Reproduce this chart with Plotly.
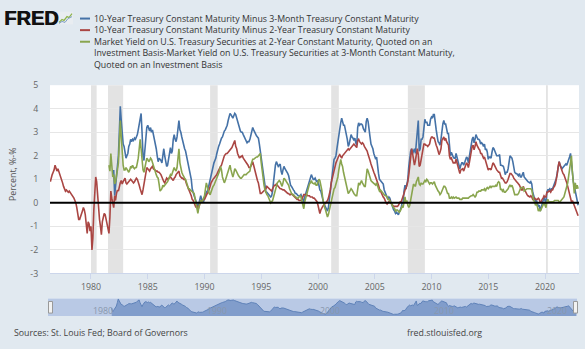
import pandas as pd
import plotly.graph_objects as go

# ---------------- data (monthly) ----------------
# 10-Year minus 2-Year, from 1976-06
t10y2y = [
    0.9, 1.1, 1.2, 1.3, 1.4, 1.6, 1.45,                                   # 1976 Jun-Dec
    1.35, 1.45, 1.35, 1.25, 1.1, 1.0, 0.85, 0.7, 0.6, 0.5, 0.55, 0.5,     # 1977
    0.45, 0.5, 0.45, 0.4, 0.35, 0.3, 0.2, 0.1, 0.0, -0.2, -0.5, -0.7,     # 1978
    -0.7, -0.6, -0.5, -0.35, -0.2, -0.3, -0.5, -0.8, -1.3, -0.8, -0.9, -1.2,  # 1979
    -1.0, -2.0, -1.5, -0.3, 0.8, 1.1, 0.9, 0.3, -0.3, -0.7, -1.0, -1.35,  # 1980
    -0.8, -0.6, -0.45, -0.5, -0.7, -0.9, -1.15, -1.3, -0.6, 0.5, 0.2, -0.1,  # 1981
    -0.2, 0.3, 0.1, 0.4, 0.55, 0.5, 0.75, 0.85, 0.95, 0.8, 0.9, 1.0,      # 1982
    1.05, 0.85, 0.8, 0.85, 0.9, 0.95, 1.0, 0.95, 0.9, 0.85, 0.9, 1.0,     # 1983
    1.05, 1.0, 0.9, 0.75, 0.6, 0.4, 0.35, 0.55, 0.8, 1.1, 1.4, 1.5,       # 1984
    1.45, 1.4, 1.35, 1.45, 1.5, 1.55, 1.45, 1.4, 1.4, 1.35, 1.35, 1.3,    # 1985
    1.3, 1.25, 1.2, 1.1, 0.95, 0.9, 0.85, 1.0, 1.05, 1.0, 1.05, 1.1,      # 1986
    1.1, 1.05, 1.0, 0.95, 1.05, 1.1, 1.2, 1.25, 1.3, 1.35, 1.15, 1.1,     # 1987
    1.05, 1.05, 1.0, 1.0, 0.95, 0.8, 0.7, 0.6, 0.5, 0.45, 0.3, 0.15,      # 1988
    0.1, 0.0, -0.15, -0.2, -0.1, -0.3, -0.2, 0.0, 0.1, 0.05, 0.1, 0.15,   # 1989
    0.15, 0.25, 0.3, 0.4, 0.45, 0.55, 0.7, 0.85, 0.95, 1.0, 1.05, 1.1,    # 1990
    1.15, 1.2, 1.3, 1.4, 1.5, 1.55, 1.6, 1.75, 1.85, 2.0, 2.05, 2.1,      # 1991
    2.1, 2.15, 2.2, 2.25, 2.3, 2.35, 2.45, 2.55, 2.65, 2.4, 2.3, 2.1,     # 1992
    1.95, 1.9, 1.95, 2.0, 2.0, 1.9, 1.85, 1.75, 1.7, 1.65, 1.6, 1.5,      # 1993
    1.5, 1.55, 1.65, 1.75, 1.6, 1.4, 1.3, 1.1, 0.95, 0.85, 0.6, 0.4,      # 1994
    0.4, 0.45, 0.45, 0.5, 0.55, 0.6, 0.7, 0.65, 0.6, 0.55, 0.55, 0.5,     # 1995
    0.6, 0.7, 0.75, 0.75, 0.8, 0.75, 0.7, 0.65, 0.6, 0.6, 0.55, 0.55,     # 1996
    0.55, 0.5, 0.5, 0.45, 0.4, 0.4, 0.35, 0.35, 0.4, 0.35, 0.3, 0.25,     # 1997
    0.25, 0.2, 0.15, 0.15, 0.1, 0.1, 0.1, 0.15, 0.25, 0.35, 0.35, 0.35,   # 1998
    0.35, 0.3, 0.3, 0.3, 0.25, 0.25, 0.25, 0.2, 0.2, 0.15, 0.1, 0.05,     # 1999
    -0.1, -0.3, -0.45, -0.3, -0.2, -0.15, -0.1, -0.05, 0.0, 0.05, 0.1, 0.2,  # 2000
    0.35, 0.55, 0.85, 1.05, 1.25, 1.35, 1.5, 1.7, 1.8, 1.95, 2.0, 2.05,   # 2001
    1.95, 1.9, 2.0, 2.05, 2.1, 2.15, 2.2, 2.25, 2.3, 2.25, 2.3, 2.35,     # 2002
    2.4, 2.45, 2.5, 2.45, 2.4, 2.35, 2.65, 2.7, 2.6, 2.55, 2.5, 2.55,     # 2003
    2.5, 2.4, 2.35, 2.3, 2.2, 2.05, 1.95, 1.8, 1.65, 1.5, 1.4, 1.3,       # 2004
    1.2, 1.1, 0.95, 0.9, 0.75, 0.6, 0.5, 0.4, 0.3, 0.25, 0.2, 0.05,       # 2005
    0.0, -0.05, 0.0, 0.05, 0.1, 0.0, -0.05, -0.1, -0.15, -0.15, -0.15, -0.15,  # 2006
    -0.15, -0.1, 0.0, 0.05, 0.05, 0.15, 0.25, 0.4, 0.55, 0.6, 0.75, 0.9,  # 2007
    1.2, 1.65, 1.85, 2.3, 2.1, 1.75, 1.6, 1.8, 2.1, 2.3, 2.05, 1.55,      # 2008
    1.6, 1.85, 1.95, 2.2, 2.5, 2.5, 2.45, 2.45, 2.4, 2.45, 2.5, 2.7,      # 2009
    2.8, 2.8, 2.75, 2.75, 2.55, 2.45, 2.35, 2.15, 2.05, 2.15, 2.3, 2.65,  # 2010
    2.75, 2.8, 2.65, 2.75, 2.6, 2.5, 2.45, 2.0, 1.85, 1.9, 1.75, 1.7,     # 2011
    1.7, 1.7, 1.85, 1.7, 1.45, 1.35, 1.25, 1.4, 1.45, 1.45, 1.35, 1.5,    # 2012
    1.65, 1.7, 1.65, 1.5, 1.7, 2.0, 2.25, 2.4, 2.45, 2.25, 2.4, 2.6,      # 2013
    2.45, 2.35, 2.3, 2.25, 2.1, 2.1, 2.0, 1.9, 1.95, 1.8, 1.7, 1.55,      # 2014
    1.4, 1.45, 1.45, 1.4, 1.6, 1.7, 1.65, 1.55, 1.45, 1.4, 1.35, 1.3,     # 2015
    1.3, 1.15, 1.05, 1.05, 1.0, 0.95, 0.85, 0.85, 0.9, 1.0, 1.15, 1.25,   # 2016
    1.25, 1.2, 1.15, 1.05, 1.0, 0.9, 0.9, 0.85, 0.8, 0.75, 0.65, 0.55,    # 2017
    0.55, 0.7, 0.6, 0.5, 0.45, 0.35, 0.3, 0.25, 0.25, 0.3, 0.25, 0.15,    # 2018
    0.2, 0.2, 0.15, 0.15, 0.15, 0.2, 0.15, 0.0, 0.05, 0.15, 0.2, 0.3,     # 2019
    0.25, 0.25, 0.45, 0.45, 0.5, 0.5, 0.45, 0.55, 0.55, 0.65, 0.7, 0.8,   # 2020
    1.0, 1.25, 1.55, 1.75, 1.6, 1.45, 1.3, 1.25, 1.2, 1.1, 0.95, 0.85,    # 2021
    0.7, 0.5, 0.3, 0.1, 0.05, 0.1, 0.0, -0.1, -0.2, -0.3, -0.45, -0.55,   # 2022
]

# 10-Year minus 3-Month, from 1982-01
t10y3m = [
    1.4, 0.3, 0.7, 1.2, 1.6, 2.0, 3.0, 4.1, 3.5, 2.8, 2.5, 2.4,           # 1982
    2.1, 1.9, 2.0, 2.1, 2.4, 2.5, 2.7, 2.6, 2.7, 2.65, 2.75, 2.7,         # 1983
    2.8, 2.9, 3.1, 3.4, 3.6, 3.8, 3.0, 2.0, 1.8, 2.4, 3.0, 3.2,           # 1984
    3.3, 3.1, 3.05, 3.2, 3.0, 3.1, 2.9, 2.8, 2.6, 2.3, 2.0, 1.75,         # 1985
    1.9, 1.85, 1.8, 1.7, 2.1, 2.3, 2.0, 1.7, 1.55, 1.6, 1.9, 2.2,         # 1986
    2.35, 2.1, 2.2, 2.7, 2.9, 2.7, 2.6, 2.8, 3.2, 3.5, 3.1, 3.0,          # 1987
    2.8, 2.6, 2.5, 2.3, 2.2, 2.0, 1.9, 1.6, 1.5, 1.3, 1.0, 0.6,           # 1988
    0.4, 0.3, 0.2, 0.1, 0.0, -0.15, -0.05, 0.2, 0.3, 0.15, 0.1, 0.05,     # 1989
    0.2, 0.35, 0.45, 0.5, 0.6, 0.8, 1.0, 1.25, 1.4, 1.55, 1.7, 1.8,       # 1990
    1.9, 2.1, 2.3, 2.4, 2.5, 2.7, 2.75, 2.8, 2.95, 3.05, 3.1, 3.2,        # 1991
    3.3, 3.5, 3.7, 3.8, 3.75, 3.65, 3.6, 3.7, 3.8, 3.75, 3.6, 3.5,        # 1992
    3.3, 3.1, 3.05, 3.0, 3.0, 2.9, 2.8, 2.75, 2.65, 2.55, 2.6, 2.6,       # 1993
    2.7, 2.85, 3.05, 3.2, 3.1, 3.0, 2.95, 2.85, 2.8, 2.75, 2.5, 2.2,      # 1994
    2.0, 1.7, 1.3, 0.95, 0.6, 0.45, 0.45, 0.4, 0.35, 0.3, 0.25, 0.3,      # 1995
    0.5, 0.9, 1.3, 1.6, 1.75, 1.6, 1.55, 1.6, 1.65, 1.35, 1.2, 1.4,       # 1996
    1.55, 1.45, 1.4, 1.3, 1.25, 1.15, 0.9, 0.75, 0.7, 0.6, 0.55, 0.5,     # 1997
    0.4, 0.4, 0.35, 0.3, 0.3, 0.3, 0.35, 0.25, 0.15, 0.05, 0.25, 0.4,     # 1998
    0.5, 0.65, 0.8, 0.95, 1.1, 1.2, 1.1, 1.0, 1.0, 1.05, 0.95, 0.9,       # 1999
    0.95, 0.7, 0.55, 0.5, 0.3, 0.1, 0.0, -0.1, -0.2, -0.3, -0.35, -0.2,   # 2000
    0.2, 0.5, 0.8, 1.3, 1.7, 1.85, 1.9, 2.0, 2.3, 2.6, 3.0, 3.3,          # 2001
    3.4, 3.6, 3.5, 3.3, 3.3, 3.15, 2.9, 2.7, 2.4, 2.5, 2.8, 2.9,          # 2002
    2.8, 2.75, 2.65, 2.75, 2.55, 2.45, 3.2, 3.4, 3.3, 3.35, 3.35, 3.3,    # 2003
    3.15, 3.05, 3.0, 3.45, 3.6, 3.45, 3.0, 2.8, 2.5, 2.4, 2.3, 2.1,       # 2004
    2.0, 1.85, 1.95, 1.45, 1.25, 1.0, 0.95, 0.85, 0.85, 0.8, 0.55, 0.45,  # 2005
    0.35, 0.3, 0.15, 0.25, 0.2, 0.05, -0.1, -0.15, -0.3, -0.35, -0.45, -0.4,  # 2006
    -0.45, -0.5, -0.4, -0.3, -0.2, 0.0, 0.0, 0.5, 0.75, 0.6, 0.85, 1.0,   # 2007
    1.55, 1.9, 2.2, 2.3, 2.1, 2.2, 2.3, 2.1, 2.5, 3.0, 3.5, 2.2,          # 2008
    2.3, 2.7, 2.7, 2.8, 3.2, 3.55, 3.4, 3.45, 3.3, 3.3, 3.3, 3.55,        # 2009
    3.65, 3.6, 3.75, 3.75, 3.3, 3.1, 2.85, 2.6, 2.55, 2.45, 2.7, 3.2,     # 2010
    3.35, 3.5, 3.35, 3.35, 3.1, 2.95, 2.95, 2.25, 2.0, 2.15, 2.0, 1.95,   # 2011
    1.9, 1.9, 2.1, 1.95, 1.7, 1.55, 1.45, 1.6, 1.7, 1.7, 1.6, 1.7,        # 2012
    1.85, 1.95, 1.9, 1.7, 1.95, 2.25, 2.55, 2.7, 2.8, 2.55, 2.7, 2.9,     # 2013
    2.8, 2.7, 2.7, 2.65, 2.5, 2.55, 2.5, 2.4, 2.5, 2.25, 2.3, 2.15,       # 2014
    1.85, 1.95, 1.95, 1.9, 2.15, 2.35, 2.3, 2.15, 2.1, 2.0, 2.0, 2.0,     # 2015
    2.05, 1.6, 1.6, 1.55, 1.55, 1.4, 1.2, 1.3, 1.3, 1.45, 1.85, 2.0,      # 2016
    1.95, 1.9, 1.75, 1.5, 1.3, 1.25, 1.25, 1.2, 1.15, 1.25, 1.1, 1.1,     # 2017
    1.2, 1.3, 1.1, 1.05, 1.05, 0.95, 0.9, 0.85, 0.85, 0.9, 0.8, 0.45,     # 2018
    0.3, 0.25, 0.05, 0.1, 0.0, -0.15, -0.1, -0.35, -0.2, -0.05, 0.15, 0.25,  # 2019
    0.1, -0.05, 0.45, 0.55, 0.55, 0.6, 0.5, 0.6, 0.6, 0.7, 0.8, 0.9,      # 2020
    1.05, 1.3, 1.65, 1.75, 1.6, 1.5, 1.45, 1.5, 1.55, 1.6, 1.65, 1.6,     # 2021
    1.7, 1.8, 1.95, 2.1, 1.8, 1.3, 0.9, 0.65, 0.5, 0.35, 0.1, -0.1,       # 2022
]

# 2-Year minus 3-Month (investment basis), from 1981-08
t2y3m = [
    1.6, 1.35, 2.1, 1.6, 1.1,                                             # 1981 Aug-Dec
    1.2, 0.8, 0.9, 1.1, 1.4, 1.7, 2.4, 3.5, 2.8, 2.1, 1.6, 1.4,           # 1982
    1.4, 1.5, 1.45, 1.35, 1.3, 1.4, 1.55, 1.5, 1.6, 1.5, 1.45, 1.5,       # 1983
    1.5, 1.7, 1.9, 2.3, 2.7, 2.3, 1.8, 1.4, 1.3, 1.5, 1.7, 1.9,           # 1984
    1.85, 1.75, 1.8, 1.9, 1.85, 1.7, 1.6, 1.5, 1.35, 1.2, 1.1, 1.05,      # 1985
    0.8, 0.5, 0.55, 0.6, 0.75, 0.7, 0.75, 0.8, 0.85, 0.9, 1.0, 1.1,       # 1986
    1.2, 1.15, 1.25, 1.45, 1.5, 1.4, 1.35, 1.5, 1.8, 2.3, 1.7, 1.4,       # 1987
    1.3, 1.2, 1.1, 1.05, 1.0, 0.9, 0.75, 0.6, 0.6, 0.55, 0.5, 0.5,        # 1988
    0.45, 0.4, 0.2, 0.0, -0.2, -0.45, -0.2, 0.0, 0.1, 0.05, 0.1, 0.2,     # 1989
    0.3, 0.6, 0.85, 0.7, 0.5, 0.4, 0.35, 0.5, 0.6, 0.7, 0.75, 0.85,       # 1990
    0.9, 1.0, 1.1, 1.2, 1.35, 1.55, 1.4, 1.1, 0.95, 0.85, 0.95, 1.1,      # 1991
    1.2, 1.4, 1.55, 1.6, 1.4, 1.15, 1.1, 1.25, 1.45, 1.4, 1.3, 1.2,       # 1992
    1.15, 1.1, 1.05, 1.05, 1.1, 1.15, 1.2, 1.2, 1.2, 1.25, 1.3, 1.3,      # 1993
    1.35, 1.6, 1.75, 1.85, 1.85, 1.9, 1.9, 1.95, 1.95, 2.0, 2.05, 2.1,    # 1994
    1.7, 1.3, 0.9, 0.75, 0.55, 0.4, 0.35, 0.3, 0.2, 0.1, 0.0, 0.05,       # 1995
    0.1, 0.25, 0.4, 0.6, 0.8, 0.85, 0.9, 0.95, 0.9, 0.75, 0.7, 0.85,      # 1996
    1.05, 1.0, 0.95, 0.85, 0.8, 0.75, 0.6, 0.45, 0.4, 0.35, 0.35, 0.3,    # 1997
    0.25, 0.2, 0.2, 0.2, 0.25, 0.3, 0.25, 0.1, -0.1, -0.25, 0.05, 0.2,    # 1998
    0.35, 0.5, 0.7, 0.8, 0.85, 0.95, 0.85, 0.8, 0.8, 0.85, 0.75, 0.75,    # 1999
    0.9, 1.0, 0.95, 0.8, 0.55, 0.2, -0.05, -0.2, -0.3, -0.45, -0.6, -0.5, # 2000
    -0.3, -0.1, 0.0, 0.3, 0.5, 0.6, 0.65, 0.8, 0.9, 1.1, 1.4, 1.7,        # 2001
    1.85, 1.65, 1.55, 1.3, 1.1, 1.0, 0.75, 0.5, 0.4, 0.45, 0.55, 0.6,     # 2002
    0.55, 0.45, 0.4, 0.35, 0.3, 0.3, 0.7, 0.85, 0.75, 0.85, 0.95, 0.85,   # 2003
    0.75, 0.7, 0.7, 1.1, 1.45, 1.35, 1.2, 1.0, 0.95, 0.9, 0.85, 0.8,      # 2004
    0.8, 0.75, 0.85, 0.65, 0.6, 0.5, 0.55, 0.5, 0.45, 0.45, 0.35, 0.3,    # 2005
    0.3, 0.25, 0.15, 0.15, 0.1, 0.05, -0.05, -0.15, -0.2, -0.25, -0.35, -0.3,  # 2006
    -0.3, -0.35, -0.4, -0.35, -0.2, -0.15, -0.2, 0.1, 0.25, 0.0, 0.1, -0.1,    # 2007
    -0.2, -0.1, 0.1, 0.3, 0.5, 0.8, 0.75, 0.7, 0.9, 1.05, 1.1, 0.8,       # 2008
    0.75, 0.85, 0.8, 0.8, 0.85, 0.95, 0.9, 1.0, 0.95, 0.9, 0.8, 0.85,     # 2009
    0.85, 0.8, 0.85, 0.9, 0.75, 0.65, 0.55, 0.5, 0.45, 0.35, 0.4, 0.55,   # 2010
    0.6, 0.7, 0.7, 0.65, 0.5, 0.4, 0.4, 0.2, 0.2, 0.25, 0.2, 0.25,        # 2011
    0.2, 0.25, 0.25, 0.2, 0.2, 0.2, 0.15, 0.15, 0.15, 0.2, 0.2, 0.2,      # 2012
    0.2, 0.2, 0.2, 0.2, 0.25, 0.3, 0.3, 0.3, 0.35, 0.3, 0.25, 0.3,        # 2013
    0.45, 0.45, 0.5, 0.5, 0.5, 0.55, 0.55, 0.55, 0.6, 0.5, 0.6, 0.65,     # 2014
    0.6, 0.65, 0.7, 0.65, 0.7, 0.7, 0.7, 0.7, 0.75, 0.7, 0.85, 0.9,       # 2015
    0.85, 0.55, 0.6, 0.5, 0.55, 0.45, 0.45, 0.5, 0.55, 0.6, 0.7, 0.75,    # 2016
    0.7, 0.75, 0.65, 0.5, 0.35, 0.35, 0.35, 0.35, 0.4, 0.55, 0.6, 0.65,   # 2017
    0.65, 0.65, 0.5, 0.55, 0.6, 0.6, 0.6, 0.6, 0.6, 0.6, 0.55, 0.3,       # 2018
    0.1, 0.05, -0.1, -0.05, -0.15, -0.35, -0.25, -0.35, -0.25, -0.2, -0.05, 0.0,  # 2019
    -0.1, -0.2, 0.05, 0.15, 0.05, 0.05, 0.05, 0.05, 0.05, 0.05, 0.1, 0.1, # 2020
    0.1, 0.1, 0.1, 0.05, 0.05, 0.1, 0.15, 0.2, 0.25, 0.4, 0.55, 0.7,      # 2021
    0.85, 1.15, 1.5, 1.9, 2.0, 1.3, 0.9, 0.4, 0.85, 0.6, 0.75, 0.6,       # 2022
]

series_names = [
    "10-Year Treasury Constant Maturity Minus 3-Month Treasury Constant Maturity",
    "10-Year Treasury Constant Maturity Minus 2-Year Treasury Constant Maturity",
    "Market Yield on U.S. Treasury Securities at 2-Year Constant Maturity, Quoted on an "
    "Investment Basis-Market Yield on U.S. Treasury Securities at 3-Month Constant Maturity, "
    "Quoted on an Investment Basis",
]
series_colors = ["#4572a7", "#aa4643", "#89a54e"]

recession_start = ["1980-01-01", "1981-07-01", "1990-07-01", "2001-03-01", "2007-12-01", "2020-02-01"]
recession_end = ["1980-07-01", "1982-11-01", "1991-03-01", "2001-11-01", "2009-06-01", "2020-04-01"]

x_tick_years = [1980, 1985, 1990, 1995, 2000, 2005, 2010, 2015, 2020]
y_tick_vals = [-3, -2, -1, 0, 1, 2, 3, 4, 5]
y_tick_text = ["-3", "-2", "-1", "0", "1", "2", "3", "4", "5"]
nav_years = [1980, 1990, 2000, 2010, 2020]
nav_floor = -1.0

dates_2y = pd.date_range("1976-06-01", periods=len(t10y2y), freq="MS")
dates_3m = pd.date_range("1982-01-01", periods=len(t10y3m), freq="MS")
dates_g = pd.date_range("1981-08-01", periods=len(t2y3m), freq="MS")

# ---------------- geometry helpers (pixels -> paper) ----------------
W, H = 585, 349
def px(x):
    return x / W
def py(y):
    return 1 - y / H

FONT = "Open Sans, Liberation Sans, Arial, sans-serif"
FS = 8.8

fig = go.Figure()

fig.add_trace(go.Scatter(x=dates_3m, y=t10y3m, mode="lines", name=series_names[0],
                         line=dict(color=series_colors[0], width=1.6), xaxis="x", yaxis="y"))
fig.add_trace(go.Scatter(x=dates_2y, y=t10y2y, mode="lines", name=series_names[1],
                         line=dict(color=series_colors[1], width=1.6), xaxis="x", yaxis="y"))
fig.add_trace(go.Scatter(x=dates_g, y=t2y3m, mode="lines", name=series_names[2],
                         line=dict(color=series_colors[2], width=1.6), xaxis="x", yaxis="y"))

# navigator (range-slider look-alike)
fig.add_trace(go.Scatter(x=dates_3m, y=[nav_floor] * len(dates_3m), mode="lines",
                         line=dict(width=0, color="rgba(0,0,0,0)"), hoverinfo="skip",
                         xaxis="x2", yaxis="y2"))
fig.add_trace(go.Scatter(x=dates_3m, y=t10y3m, mode="lines", fill="tonexty",
                         fillcolor="#819dcb", line=dict(color="#5f82b8", width=1),
                         hoverinfo="skip", xaxis="x2", yaxis="y2"))

x_range = ["1976-05-22", "2022-12-30"]

shapes = []
for s, e in zip(recession_start, recession_end):
    shapes.append(dict(type="rect", xref="x", yref="y domain", x0=s, x1=e, y0=0, y1=1,
                       fillcolor="#e3e3e3", line=dict(width=0), layer="below"))
# zero line
shapes.append(dict(type="line", xref="x domain", yref="y", x0=0, x1=1, y0=0, y1=0,
                   line=dict(color="#000000", width=2), layer="above"))
# navigator background
shapes.append(dict(type="rect", xref="x2 domain", yref="y2 domain", x0=0, x1=1, y0=0, y1=1,
                   fillcolor="#b9c9e5", line=dict(width=0), layer="below"))
# navigator handles
for hx0, hx1 in [(48.5, 52.5), (573.5, 577.5)]:
    shapes.append(dict(type="rect", xref="paper", yref="paper",
                       x0=px(hx0), x1=px(hx1), y0=py(318), y1=py(306),
                       fillcolor="#f2f2f2", line=dict(color="#999999", width=1), layer="above"))
# legend line samples
for i, yy in enumerate([13, 25, 37]):
    shapes.append(dict(type="line", xref="paper", yref="paper",
                       x0=px(80), x1=px(90), y0=py(yy), y1=py(yy),
                       line=dict(color=series_colors[i], width=2)))
# small FRED chart icon
shapes.append(dict(type="rect", xref="paper", yref="paper", x0=px(58), x1=px(73), y0=py(19), y1=py(6),
                   fillcolor="#e9edf1", line=dict(width=0)))
shapes.append(dict(type="path", xref="paper", yref="paper",
                   path=f"M {px(59)},{py(17)} L {px(62)},{py(14)} L {px(64)},{py(15)} L {px(67)},{py(11)} L {px(69)},{py(12)} L {px(72)},{py(8)}",
                   line=dict(color="#8cb34a", width=1.2)))
shapes.append(dict(type="path", xref="paper", yref="paper",
                   path=f"M {px(59)},{py(18)} L {px(62)},{py(16)} L {px(65)},{py(17)} L {px(68)},{py(13)} L {px(72)},{py(11)}",
                   line=dict(color="#7f9fc7", width=1)))

annotations = []
legend_lines = [
    (13, "10-Year Treasury Constant Maturity Minus 3-Month Treasury Constant Maturity"),
    (25, "10-Year Treasury Constant Maturity Minus 2-Year Treasury Constant Maturity"),
    (37, "Market Yield on U.S. Treasury Securities at 2-Year Constant Maturity, Quoted on an"),
    (49, "Investment Basis-Market Yield on U.S. Treasury Securities at 3-Month Constant Maturity,"),
    (61, "Quoted on an Investment Basis"),
]
for yy, txt in legend_lines:
    annotations.append(dict(text=txt, xref="paper", yref="paper", x=px(92), y=py(yy),
                            xanchor="left", yanchor="middle", showarrow=False,
                            font=dict(family=FONT, size=FS, color="#333333")))
# FRED logo text
annotations.append(dict(text="<b>FRED</b>", xref="paper", yref="paper", x=px(2), y=py(12.5),
                        xanchor="left", yanchor="middle", showarrow=False,
                        font=dict(family="Liberation Sans, Arial, sans-serif", size=20, color="#111111",
                                  shadow="0.8px 0px 0px #111111")))
# y axis title
annotations.append(dict(text="Percent, %-%", xref="paper", yref="paper", x=px(13), y=py(175),
                        xanchor="center", yanchor="middle", textangle=-90, showarrow=False,
                        font=dict(family=FONT, size=FS, color="#555555")))
# navigator labels
for yr in nav_years:
    annotations.append(dict(text=str(yr), xref="x2", yref="paper", x=f"{yr}-01-01", y=py(316),
                            xanchor="left", yanchor="middle", xshift=2, showarrow=False,
                            font=dict(family=FONT, size=FS, color="#8a98ad")))
# footer
annotations.append(dict(text="Sources: St. Louis Fed; Board of Governors", xref="paper", yref="paper",
                        x=px(12), y=py(339), xanchor="left", yanchor="middle", showarrow=False,
                        font=dict(family=FONT, size=FS, color="#444444")))
annotations.append(dict(text="fred.stlouisfed.org", xref="paper", yref="paper",
                        x=px(405), y=py(339), xanchor="left", yanchor="middle", showarrow=False,
                        font=dict(family=FONT, size=FS, color="#444444")))

fig.update_layout(
    width=W, height=H,
    margin=dict(l=0, r=0, t=0, b=0),
    paper_bgcolor="#e1e9f0",
    plot_bgcolor="#ffffff",
    showlegend=False,
    shapes=shapes,
    annotations=annotations,
    font=dict(family=FONT, size=FS, color="#666666"),
    xaxis=dict(
        domain=[px(50), px(579)], range=x_range, type="date",
        tickvals=[f"{y}-01-01" for y in x_tick_years], ticktext=[str(y) for y in x_tick_years],
        ticks="outside", ticklen=5, tickcolor="#ccd6eb", showgrid=False, zeroline=False,
        showline=True, linecolor="#ccd6eb", linewidth=1,
        tickfont=dict(family=FONT, size=FS, color="#666666"), anchor="y", fixedrange=True,
    ),
    yaxis=dict(
        domain=[py(277), py(82)], range=[-3, 5],
        tickvals=y_tick_vals, ticktext=y_tick_text,
        ticks="outside", ticklen=9, tickcolor="rgba(0,0,0,0)",
        showgrid=True, gridcolor="#e6e6e6", gridwidth=1, zeroline=False,
        tickfont=dict(family=FONT, size=FS, color="#666666"), anchor="x", fixedrange=True,
    ),
    xaxis2=dict(
        domain=[px(48), px(577)], range=x_range, type="date", anchor="y2",
        showticklabels=False, showgrid=False, zeroline=False, showline=False, ticks="",
    ),
    yaxis2=dict(
        domain=[py(321), py(303)], range=[nav_floor + 0.1, 4.2], anchor="x2",
        showticklabels=False, showgrid=False, zeroline=False, showline=False, ticks="",
    ),
)

fig.write_html("out.html")
